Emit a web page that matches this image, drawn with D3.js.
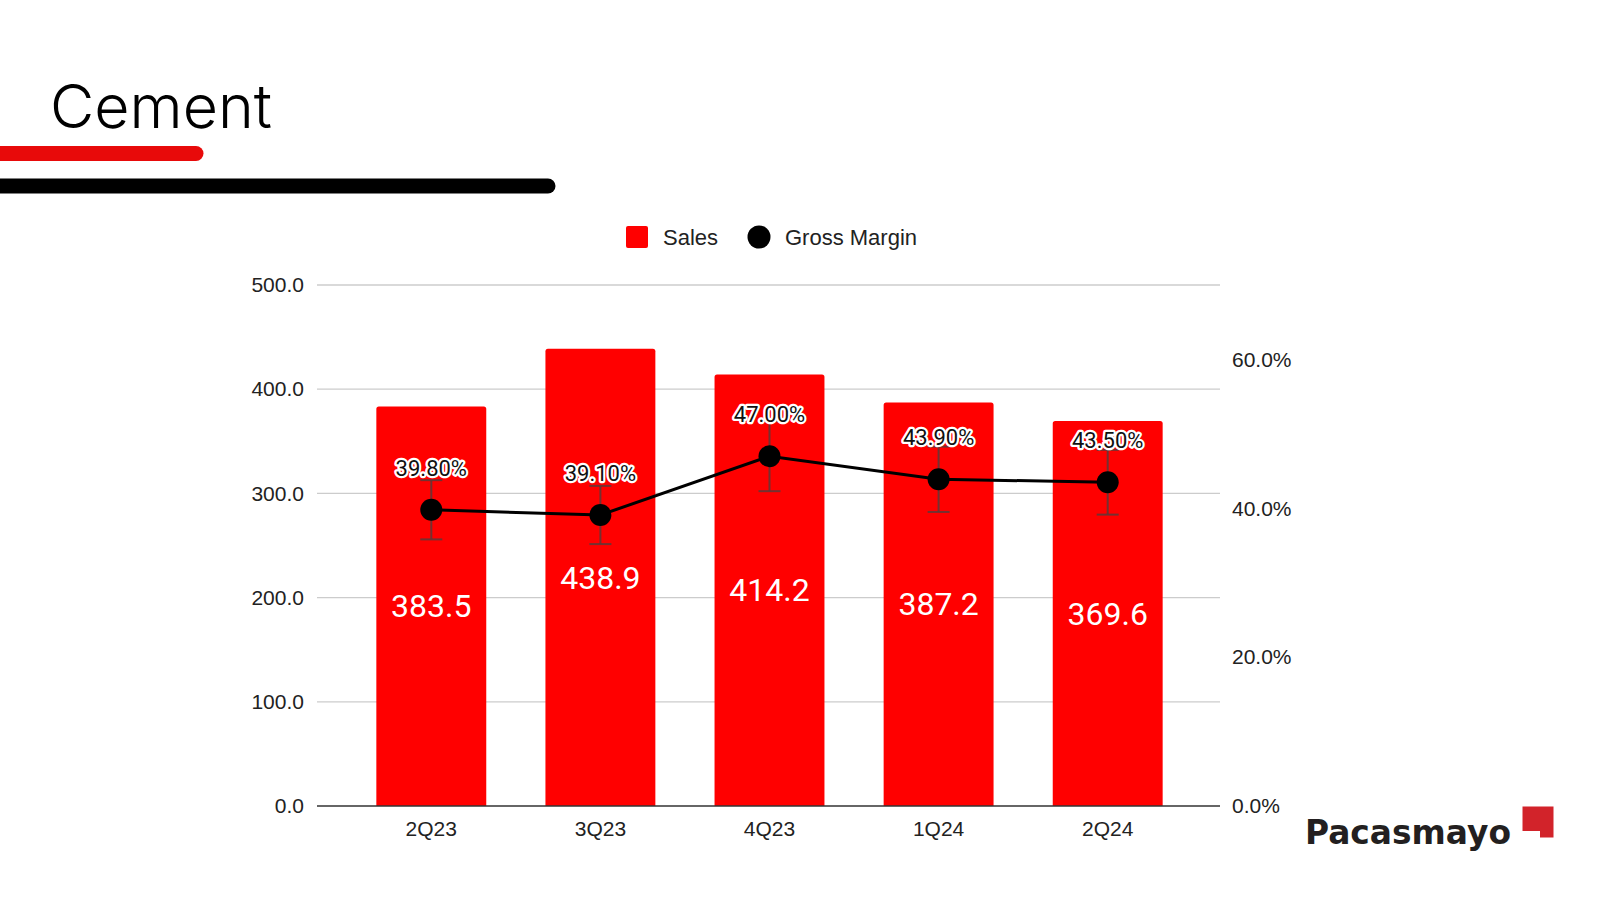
<!DOCTYPE html>
<html>
<head>
<meta charset="utf-8">
<script src="https://cdn.jsdelivr.net/npm/d3@7"></script>
<style>
  html, body { margin: 0; padding: 0; background: #fff; }
  svg { display: block; }
</style>
</head>
<body>
<svg id="chart" width="1600" height="900"></svg>
<script>
// ---- data ----
const categories = ["2Q23", "3Q23", "4Q23", "1Q24", "2Q24"];
const sales = [383.5, 438.9, 414.2, 387.2, 369.6];
const grossMargin = [39.8, 39.1, 47.0, 43.9, 43.5];
const errorPercent = 10; // error bars: ±10% of value
const leftTicks = [0, 100, 200, 300, 400, 500];
const rightTicks = [0, 20, 40, 60];
const seriesNames = ["Sales", "Gross Margin"];
const titleText = "Cement";
const logoText = "Pacasmayo";

// ---- layout ----
const svg = d3.select("#chart");
const plotLeft = 317, plotRight = 1220, plotTop = 285, plotBottom = 806;
const axisFont = "'Liberation Sans', Arial, sans-serif";
const labelFont = "Roboto, 'Liberation Sans', sans-serif";

const x = d3.scaleBand().domain(categories).range([plotLeft + 1, plotRight + 1])
  .paddingInner(0.35).paddingOuter(0.345);
const yL = d3.scaleLinear().domain([0, 500]).range([plotBottom, plotTop]);
const yR = d3.scaleLinear().domain([0, 70]).range([plotBottom, plotTop]);

// ---- title & decorative bars ----
const title = svg.append("text").attr("x", 50).attr("y", 128)
  .attr("font-family", "Inter, 'Open Sans', sans-serif").attr("font-weight", 300)
  .attr("font-size", 56).attr("fill", "#000").text(titleText);
{
  const w = title.node().getComputedTextLength();
  title.attr("font-size", 56 * 222 / w);
}
svg.append("line").attr("x1", -20).attr("x2", 196).attr("y1", 153.5).attr("y2", 153.5)
  .attr("stroke", "#e80a0a").attr("stroke-width", 15).attr("stroke-linecap", "round");
svg.append("line").attr("x1", -20).attr("x2", 548).attr("y1", 186).attr("y2", 186)
  .attr("stroke", "#000").attr("stroke-width", 15).attr("stroke-linecap", "round");

// ---- gridlines ----
svg.append("g").selectAll("line").data(leftTicks.filter(d => d > 0)).join("line")
  .attr("x1", plotLeft).attr("x2", plotRight)
  .attr("y1", d => yL(d)).attr("y2", d => yL(d))
  .attr("stroke", "#cccccc").attr("stroke-width", 1.3);

// ---- left axis ----
const leftAxis = d3.axisLeft(yL).tickValues(leftTicks).tickFormat(d3.format(".1f")).tickSize(0).tickPadding(13);
const gL = svg.append("g").attr("transform", `translate(${plotLeft},0)`).call(leftAxis);
gL.select(".domain").remove();
gL.selectAll("text").attr("font-family", axisFont).attr("font-size", 21).attr("fill", "#222");

// ---- right axis ----
const rightAxis = d3.axisRight(yR).tickValues(rightTicks).tickFormat(d => d3.format(".1f")(d) + "%").tickSize(0).tickPadding(12);
const gR = svg.append("g").attr("transform", `translate(${plotRight},0)`).call(rightAxis);
gR.select(".domain").remove();
gR.selectAll("text").attr("font-family", axisFont).attr("font-size", 21).attr("fill", "#222");

// ---- bars ----
const barData = categories.map((c, i) => ({ c, v: sales[i] }));
svg.append("g").selectAll("path").data(barData).join("path")
  .attr("d", d => {
    const x0 = x(d.c), x1 = x(d.c) + x.bandwidth(), y0 = yL(d.v), y1 = yL(0), r = 2.5;
    return `M${x0},${y1}V${y0 + r}Q${x0},${y0} ${x0 + r},${y0}H${x1 - r}Q${x1},${y0} ${x1},${y0 + r}V${y1}Z`;
  })
  .attr("fill", "#ff0000");

// ---- x axis ----
const bottomAxis = d3.axisBottom(x).tickSize(0).tickPadding(15);
const gB = svg.append("g").attr("transform", `translate(0,${plotBottom})`).call(bottomAxis);
gB.select(".domain").attr("d", `M${plotLeft},0H${plotRight}`).attr("stroke", "#333").attr("stroke-width", 1.5);
gB.selectAll("text").attr("font-family", axisFont).attr("font-size", 21).attr("fill", "#222");

// ---- sales labels ----
svg.append("g").selectAll("text").data(barData).join("text")
  .attr("x", d => x(d.c) + x.bandwidth() / 2)
  .attr("y", d => (yL(d.v) + yL(0)) / 2)
  .attr("dy", "0.35em")
  .attr("text-anchor", "middle")
  .attr("font-family", labelFont).attr("font-size", 32).attr("fill", "#fff")
  .text(d => d3.format(".1f")(d.v));

// ---- gross margin error bars ----
const gmData = categories.map((c, i) => ({ c, v: grossMargin[i], cx: x(c) + x.bandwidth() / 2 }));
const eb = svg.append("g").attr("stroke", "#5b3a3a").attr("stroke-width", 2).attr("stroke-opacity", 0.85);
gmData.forEach(d => {
  const lo = yR(d.v * (1 - errorPercent / 100)), hi = yR(d.v * (1 + errorPercent / 100));
  eb.append("line").attr("x1", d.cx).attr("x2", d.cx).attr("y1", lo).attr("y2", hi);
  eb.append("line").attr("x1", d.cx - 11).attr("x2", d.cx + 11).attr("y1", lo).attr("y2", lo);
  eb.append("line").attr("x1", d.cx - 11).attr("x2", d.cx + 11).attr("y1", hi).attr("y2", hi);
});

// ---- gross margin line + points ----
const line = d3.line().x(d => d.cx).y(d => yR(d.v));
svg.append("path").datum(gmData).attr("d", line)
  .attr("fill", "none").attr("stroke", "#000").attr("stroke-width", 3);
svg.append("g").selectAll("circle").data(gmData).join("circle")
  .attr("cx", d => d.cx).attr("cy", d => yR(d.v)).attr("r", 11).attr("fill", "#000");

// ---- gross margin labels ----
svg.append("g").selectAll("text").data(gmData).join("text")
  .attr("x", d => d.cx).attr("y", d => yR(d.v) - 34)
  .attr("text-anchor", "middle")
  .attr("font-family", labelFont).attr("font-size", 22).attr("font-weight", 400)
  .attr("fill", "#111").attr("stroke", "#fff").attr("stroke-width", 4.5)
  .attr("stroke-linejoin", "round").attr("paint-order", "stroke")
  .text(d => d3.format(".2f")(d.v) + "%");

// ---- legend ----
const lg = svg.append("g");
lg.append("rect").attr("x", 626).attr("y", 226).attr("width", 22).attr("height", 22).attr("rx", 2).attr("fill", "#ff0000");
lg.append("text").attr("x", 663).attr("y", 237).attr("dy", "0.35em")
  .attr("font-family", axisFont).attr("font-size", 22).attr("fill", "#222").text(seriesNames[0]);
lg.append("circle").attr("cx", 759).attr("cy", 237).attr("r", 11.5).attr("fill", "#000");
lg.append("text").attr("x", 785).attr("y", 237).attr("dy", "0.35em")
  .attr("font-family", axisFont).attr("font-size", 22).attr("fill", "#222").text(seriesNames[1]);

// ---- logo ----
const logo = svg.append("text").attr("x", 1305).attr("y", 843.5)
  .attr("font-family", "'DejaVu Sans', Lato, sans-serif").attr("font-weight", 700)
  .attr("font-size", 33).attr("fill", "#231f20").text(logoText);
{
  const w = logo.node().getComputedTextLength();
  logo.attr("font-size", 33 * 206 / w);
}
svg.append("path").attr("d", "M1522.5,806.5H1553.5V837.5H1540V831H1522.5Z").attr("fill", "#d2232a");
</script>
</body>
</html>
